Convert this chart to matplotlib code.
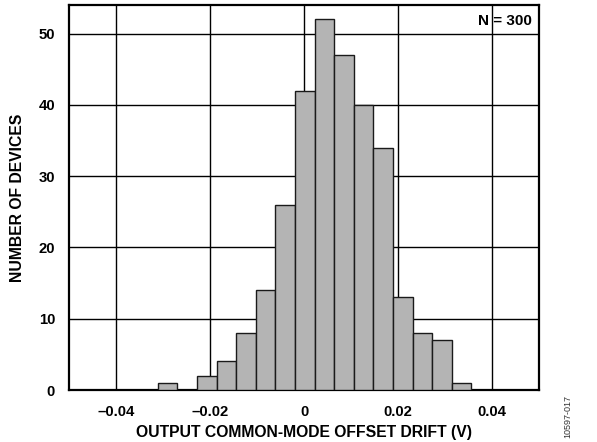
import matplotlib
matplotlib.use("Agg")
import matplotlib.pyplot as plt
import numpy as np

plt.rcParams['font.family'] = ['Liberation Sans', 'DejaVu Sans']

# Data
bin_start = -0.0311
bin_width = 0.00417
counts = [1, 0, 2, 4, 8, 14, 26, 42, 52, 47, 40, 34, 13, 8, 7, 1]
xticks = [-0.04, -0.02, 0, 0.02, 0.04]
xtick_labels = ['\u20130.04', '\u20130.02', '0', '0.02', '0.04']
yticks = [0, 10, 20, 30, 40, 50]
yticks_labels = ['0', '10', '20', '30', '40', '50']

W, H = 597, 442
fig = plt.figure(figsize=(W / 100, H / 100), dpi=100)
ax = fig.add_axes([69 / W, (H - 390) / H, (539 - 69) / W, (390 - 5) / H])

lefts = bin_start + bin_width * np.arange(len(counts))
ax.bar(lefts, counts, width=bin_width, align='edge', color='#b4b4b4',
       edgecolor='#1a1a1a', linewidth=1.0, zorder=3)

ax.set_xlim(-0.05, 0.05)
ax.set_ylim(0, 54)
ax.set_xticks(xticks)
ax.set_xticklabels(xtick_labels)
ax.set_yticks(yticks)
ax.set_yticklabels(yticks_labels)
ax.tick_params(length=0, labelsize=10.7)
ax.tick_params(axis='x', pad=11)
ax.tick_params(axis='y', pad=10)
for lab in ax.get_xticklabels() + ax.get_yticklabels():
    lab.set_fontweight('bold')
ax.grid(True, color='black', linewidth=1.0, zorder=0)
ax.set_axisbelow(True)
for s in ax.spines.values():
    s.set_linewidth(1.6)
    s.set_color('black')

ax.set_xlabel('OUTPUT COMMON-MODE OFFSET DRIFT (V)', fontsize=11.3, fontweight='bold', labelpad=4)
ax.set_ylabel('NUMBER OF DEVICES', fontsize=11.3, fontweight='bold', labelpad=10)

ax.text(0.0485, 51.8, 'N = 300', fontsize=11, fontweight='bold', ha='right', va='center', zorder=4)

fig.text(568 / W, (H - 438) / H, '10597-017', rotation=90, fontsize=6.5,
         ha='center', va='bottom', color='#333333')

fig.savefig('out.png', dpi=100)
